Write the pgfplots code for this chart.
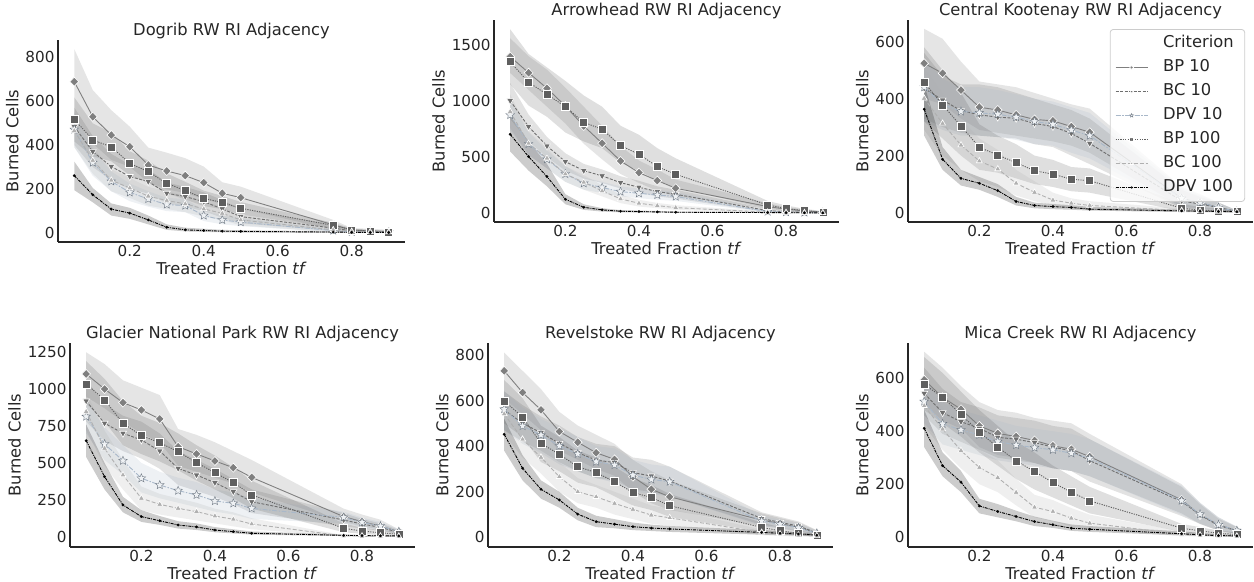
\documentclass[border=0pt]{standalone}
\usepackage{fontspec}
\setmainfont{DejaVu Sans}
\usepackage{pgfplots}
\pgfplotsset{compat=1.18}
\usepackage{pgfplotstable}
\usepgfplotslibrary{fillbetween}

\definecolor{cBPa}{HTML}{7F7F7F}
\definecolor{cBCa}{HTML}{6E6E6E}
\definecolor{cDPVa}{HTML}{A9B8C9}
\definecolor{cBPb}{HTML}{5F5F5F}
\definecolor{cBCb}{HTML}{B0B0B0}
\definecolor{cDPVb}{HTML}{000000}
\definecolor{spine}{HTML}{262626}
\definecolor{legedge}{HTML}{CCCCCC}

\newcommand{\fs}{\fontsize{16.3bp}{19bp}\selectfont}
\newcommand{\fst}{\fontsize{15.2bp}{18bp}\selectfont}

\pgfdeclareplotmark{fstar}{%
  \pgfpathmoveto{\pgfpointpolar{90}{\pgfplotmarksize}}%
  \pgfpathlineto{\pgfpointpolar{126}{0.45\pgfplotmarksize}}%
  \pgfpathlineto{\pgfpointpolar{162}{\pgfplotmarksize}}%
  \pgfpathlineto{\pgfpointpolar{198}{0.45\pgfplotmarksize}}%
  \pgfpathlineto{\pgfpointpolar{234}{\pgfplotmarksize}}%
  \pgfpathlineto{\pgfpointpolar{270}{0.45\pgfplotmarksize}}%
  \pgfpathlineto{\pgfpointpolar{306}{\pgfplotmarksize}}%
  \pgfpathlineto{\pgfpointpolar{342}{0.45\pgfplotmarksize}}%
  \pgfpathlineto{\pgfpointpolar{18}{\pgfplotmarksize}}%
  \pgfpathlineto{\pgfpointpolar{54}{0.45\pgfplotmarksize}}%
  \pgfpathclose
  \pgfusepathqfillstroke
}

% columns: a=BP 10, b=BC 10, c=DPV 10, d=BP 100, e=BC 100, f=DPV 100 (mean, low, high)
\pgfplotstableread{
x a alo ahi b blo bhi c clo chi d dlo dhi e elo ehi f flo fhi
0.05 687 539 835 483 400 570 470 390 550 516 416 616 465 390 550 261 195 325
0.10 528 407 649 370 300 440 320 260 380 423 348 498 330 270 390 174 140 205
0.15 445 332 558 302 240 360 235 190 280 391 326 456 240 190 290 109 80 135
0.20 392 301 483 257 200 310 185 145 225 317 262 372 205 160 250 91 65 115
0.25 309 230 388 234 180 290 155 120 190 279 229 329 168 125 210 60 40 80
0.30 282 199 365 181 135 230 130 100 160 226 181 271 148 110 190 27 15 40
0.35 261 182 340 166 120 210 125 95 155 193 153 233 133 95 170 15 8 25
0.40 229 156 302 143 100 185 80 55 105 158 123 193 110 75 145 12 6 20
0.45 181 131 231 110 70 150 60 40 80 139 109 169 90 60 120 9 4 15
0.50 161 111 211 75 45 110 50 32 68 113 85 141 60 35 85 8 3 13
0.75 38 16 60 23 10 40 12 4 20 35 23 47 15 5 25 5 1 9
0.80 15 7 23 10 4 18 6 2 10 15 8 22 8 3 13 4 1 7
0.85 10 3 20 8 3 14 5 2 8 10 5 15 6 2 10 3 1 6
0.90 7 2 15 6 2 10 4 1 7 6 2 10 5 2 8 3 1 5
}\tDog

\pgfplotstableread{
x a alo ahi b blo bhi c clo chi d dlo dhi e elo ehi f flo fhi
0.05 1396 1250 1560 1004 840 1160 876 740 1010 1351 1150 1640 906 760 1060 704 550 870
0.10 1253 1100 1400 772 640 880 618 520 720 1167 960 1420 624 520 730 505 380 640
0.15 1114 950 1280 600 500 680 481 400 560 1060 860 1300 490 400 580 327 240 440
0.20 956 800 1120 460 380 535 350 280 420 950 720 1180 350 280 420 125 80 170
0.25 778 620 950 380 310 440 267 210 320 811 640 1050 276 210 340 53 30 80
0.30 624 480 780 333 270 390 229 180 280 748 580 950 199 150 250 30 15 45
0.35 466 350 600 273 220 330 193 150 240 603 450 780 128 90 165 18 8 28
0.40 362 270 470 232 180 290 178 135 220 526 380 700 89 60 120 15 6 24
0.45 291 200 390 193 150 240 163 120 205 416 290 580 68 45 92 12 5 20
0.50 223 150 300 169 130 210 149 110 190 347 230 490 50 30 72 9 4 15
0.75 60 40 90 24 10 40 15 6 26 74 40 110 9 3 16 6 2 10
0.80 36 20 55 12 5 22 10 4 17 42 20 70 6 2 11 5 2 8
0.85 21 10 35 9 3 16 7 3 12 24 10 40 5 2 8 4 1 7
0.90 9 3 15 6 2 10 5 2 9 9 3 18 4 1 7 3 1 6
}\tArr

\pgfplotstableread{
x a alo ahi b blo bhi c clo chi d dlo dhi e elo ehi f flo fhi
0.05 524 400 645 436 330 560 440 320 540 457 320 580 401 290 510 363 270 450
0.10 489 380 610 395 300 480 380 290 470 378 260 500 313 200 420 187 150 230
0.15 430 330 530 358 280 450 355 270 440 304 200 420 237 150 330 120 95 150
0.20 370 290 460 343 270 450 350 270 440 229 150 310 181 110 260 103 80 125
0.25 360 280 450 335 265 440 345 265 430 202 140 270 153 90 220 77 55 100
0.30 343 270 440 331 260 420 335 255 415 175 120 240 103 60 150 39 25 55
0.35 327 260 420 313 240 400 320 240 400 147 100 200 71 40 110 25 15 35
0.40 322 250 400 302 230 380 310 235 390 135 90 185 44 25 70 21 12 30
0.45 302 235 380 278 200 360 290 210 370 117 75 160 33 18 50 18 10 26
0.50 282 210 365 243 170 330 270 190 350 112 70 155 25 12 40 12 7 20
0.75 50 20 90 41 15 80 50 18 85 15 5 30 7 2 14 6 2 10
0.80 35 15 65 30 10 55 35 12 60 9 3 20 5 1 10 5 2 8
0.85 18 8 35 18 5 35 18 6 35 6 2 14 4 1 8 4 1 7
0.90 4 2 8 4 2 8 4 2 8 4 1 8 3 1 6 3 1 6
}\tCen

\pgfplotstableread{
x a alo ahi b blo bhi c clo chi d dlo dhi e elo ehi f flo fhi
0.05 1103 950 1250 920 780 1060 814 700 930 1035 900 1190 848 720 980 651 540 760
0.10 1001 870 1170 769 650 900 628 520 740 927 780 1070 599 480 720 407 320 500
0.15 909 780 1060 701 580 820 515 420 620 769 620 920 418 320 520 215 165 270
0.20 859 700 1010 656 530 780 396 300 500 685 560 820 260 180 340 136 100 180
0.25 798 640 960 581 460 700 350 260 440 637 510 770 219 150 290 108 80 140
0.30 610 480 730 463 350 580 312 230 400 576 450 700 192 130 260 79 55 105
0.35 561 440 690 418 310 520 283 200 370 502 380 620 170 110 230 66 45 90
0.40 513 400 640 366 270 460 242 170 320 434 320 550 140 90 190 45 30 65
0.45 468 360 580 305 220 390 226 150 300 366 260 470 118 70 165 34 22 50
0.50 402 300 520 237 160 320 192 120 260 283 190 380 86 50 125 23 14 35
0.75 136 100 190 113 70 160 131 90 170 57 30 90 5 2 10 9 4 15
0.80 102 70 150 86 55 120 97 65 130 38 20 60 4 1 8 7 3 12
0.85 72 50 115 63 40 90 72 45 100 27 10 45 3 1 6 6 2 10
0.90 34 20 50 29 15 45 34 20 50 16 5 30 3 1 6 5 2 9
}\tGla

\pgfplotstableread{
x a alo ahi b blo bhi c clo chi d dlo dhi e elo ehi f flo fhi
0.05 730 610 810 559 470 640 562 470 640 598 500 690 541 450 630 452 380 520
0.10 635 540 730 500 420 580 488 410 570 528 440 610 430 350 510 303 250 360
0.15 559 470 650 459 380 530 449 370 520 412 330 490 351 280 420 211 170 250
0.20 464 380 550 412 330 490 401 320 480 364 290 440 266 200 330 164 130 200
0.25 417 340 490 371 290 440 366 290 440 310 240 380 200 150 260 102 75 130
0.30 371 300 450 339 260 410 332 260 400 284 220 350 178 130 230 69 45 95
0.35 342 270 410 328 250 400 317 240 390 244 180 310 149 100 200 58 40 80
0.40 266 200 340 284 210 350 273 200 340 197 140 260 123 80 170 47 32 65
0.45 211 150 290 269 200 340 254 190 320 175 120 230 98 60 140 41 28 56
0.50 178 120 250 247 180 310 244 180 310 139 90 190 86 50 125 37 24 50
0.75 76 50 105 83 55 110 72 50 95 44 25 65 22 10 35 22 12 32
0.80 61 40 85 66 45 90 58 40 78 29 15 45 15 6 25 18 10 27
0.85 44 25 65 50 30 70 42 28 58 18 8 30 10 4 17 15 8 22
0.90 18 8 30 20 10 32 18 8 28 10 3 18 7 2 12 10 5 15
}\tRev

\pgfplotstableread{
x a alo ahi b blo bhi c clo chi d dlo dhi e elo ehi f flo fhi
0.05 594 500 700 543 460 640 512 430 600 577 480 680 496 420 580 411 340 480
0.10 528 440 640 470 390 560 428 350 510 528 430 620 408 330 490 270 230 320
0.15 483 410 570 436 360 510 405 330 480 464 380 550 327 260 400 208 170 250
0.20 420 340 510 411 330 490 386 310 460 396 320 480 263 200 330 118 90 145
0.25 392 310 480 377 300 460 361 290 440 340 270 420 225 170 290 97 75 125
0.30 380 300 470 370 290 450 348 280 420 288 220 360 169 120 220 78 60 100
0.35 365 280 450 357 280 440 338 270 410 248 180 320 113 75 160 59 42 78
0.40 345 260 440 340 260 420 330 260 400 206 150 270 97 60 140 47 35 62
0.45 332 250 430 326 250 410 317 250 390 170 120 230 72 40 110 34 24 48
0.50 304 230 390 289 210 370 298 230 370 137 90 190 53 28 85 30 20 42
0.75 141 90 200 135 80 190 138 85 195 34 20 50 11 4 22 13 7 22
0.80 84 50 130 84 50 125 87 52 130 24 12 38 8 3 16 9 5 16
0.85 47 25 75 44 25 70 47 27 75 15 6 25 5 2 10 6 3 11
0.90 25 12 40 24 12 38 25 12 40 10 3 18 4 1 8 5 2 9
}\tMic

\pgfplotsset{
  sBPa/.style={cBPa, line width=0.9bp, solid, mark=diamond*, mark size=4.5bp,
    mark options={solid, fill=cBPa, draw=white, line width=0.6bp, xscale=1.3}},
  sBCa/.style={cBCa, line width=0.9bp, dash pattern=on 3bp off 1.5bp, mark=triangle*, mark size=4bp,
    mark options={solid, rotate=180, fill=cBCa, draw=white, line width=0.6bp}},
  sDPVa/.style={cDPVa, line width=0.9bp, dash pattern=on 5bp off 1.5bp on 1.5bp off 1.5bp, mark=fstar, mark size=4.5bp,
    mark options={solid, fill=cDPVa!20!white, draw=cDPVa!65!black, line width=0.4bp}},
  sBPb/.style={cBPb, line width=0.9bp, dash pattern=on 1.2bp off 1.2bp, mark=square*, mark size=4bp,
    mark options={solid, fill=cBPb, draw=white, line width=0.6bp}},
  sBCb/.style={cBCb, line width=0.9bp, dash pattern=on 4bp off 2bp, mark=triangle*, mark size=3.5bp,
    mark options={solid, fill=cBCb, draw=white, line width=0.6bp}},
  sDPVb/.style={cDPVb, line width=0.9bp, dash pattern=on 3bp off 1bp on 1bp off 1bp, mark=*, mark size=1.3bp,
    mark options={solid, fill=black, draw=black, line width=0.2bp}},
  panel/.style={
    scale only axis, anchor=south west,
    axis lines*=left,
    axis line style={spine, line width=1.1bp},
    xmin=0.006, xmax=0.944,
    xtick={0.2,0.4,0.6,0.8},
    xticklabels={0.2,0.4,0.6,0.8},
    major tick length=0pt,
    xticklabel style={font=\fst, text=spine},
    yticklabel style={font=\fst, text=spine},
    /pgf/number format/assume math mode=true,
    /pgf/number format/1000 sep={},
    xlabel style={font=\fs, text=spine, yshift=2bp},
    ylabel style={font=\fs, text=spine},
    title style={font=\fs, text=spine, inner sep=0pt, anchor=south, yshift=-5bp},
    xlabel={Treated Fraction \textit{tf}},
    ylabel={Burned Cells},
  },
}

\newcommand{\band}[4]{%
  \addplot[draw=none, forget plot, name path=L#2] table[x=x, y=#2]{#1};
  \addplot[draw=none, forget plot, name path=H#2] table[x=x, y=#3]{#1};
  \addplot[fill=#4, fill opacity=0.2, draw=none, forget plot] fill between[of=L#2 and H#2];
}
\newcommand{\bands}[1]{%
  \band{#1}{alo}{ahi}{cBPa}
  \band{#1}{blo}{bhi}{cBCa}
  \band{#1}{clo}{chi}{cDPVa}
  \band{#1}{dlo}{dhi}{cBPb}
  \band{#1}{elo}{ehi}{cBCb}
  \band{#1}{flo}{fhi}{cDPVb}
}
\newcommand{\lines}[2]{%
  \addplot[sBPa,#2] table[x=x, y=a]{#1};
  \addplot[sBCa,#2] table[x=x, y=b]{#1};
  \addplot[sDPVa,#2] table[x=x, y=c]{#1};
  \addplot[sBPb,#2] table[x=x, y=d]{#1};
  \addplot[sBCb,#2] table[x=x, y=e]{#1};
  \addplot[sDPVb,#2] table[x=x, y=f]{#1};
}

\begin{document}
\begin{tikzpicture}

\begin{axis}[panel, at={(58bp,340bp)}, width=347bp, height=202bp,
  ymin=-40, ymax=876, ytick={0,200,400,600,800},
  title={Dogrib RW RI Adjacency}]
\bands{\tDog}
\lines{\tDog}{}
\end{axis}

\begin{axis}[panel, at={(494bp,360bp)}, width=345bp, height=202bp,
  ymin=-78, ymax=1723, ytick={0,500,1000,1500},
  title={Arrowhead RW RI Adjacency}]
\bands{\tArr}
\lines{\tArr}{}
\end{axis}

\begin{axis}[panel, at={(908bp,360bp)}, width=345bp, height=202bp,
  ymin=-33, ymax=676, ytick={0,200,400,600},
  title={Central Kootenay RW RI Adjacency},
  legend image code/.code={\draw[mark repeat=2,mark phase=2,#1] plot coordinates {(0bp,0bp) (16bp,0bp) (32bp,0bp)}; \path (41bp,0bp);},
  legend style={at={(axis description cs:0.977,0.955)}, anchor=north east,
    font=\fs, draw=legedge, line width=0.8bp, rounded corners=3bp,
    fill=white, fill opacity=0.8, text opacity=1,
    inner xsep=5bp, inner ysep=2bp, row sep=0bp,
    nodes={inner xsep=6bp, inner ysep=4.5bp, text height=12bp, text depth=3bp, text=spine},
    cells={anchor=west}}]
\bands{\tCen}
\lines{\tCen}{forget plot}
\addlegendimage{empty legend}\addlegendentry{Criterion}
\addlegendimage{sBPa, mark size=2bp}\addlegendentry{BP 10}
\addlegendimage{sBCa, mark size=2bp}\addlegendentry{BC 10}
\addlegendimage{sDPVa, mark size=2bp}\addlegendentry{DPV 10}
\addlegendimage{sBPb, mark size=2bp}\addlegendentry{BP 100}
\addlegendimage{sBCb, mark size=2bp}\addlegendentry{BC 100}
\addlegendimage{sDPVb, mark size=1bp}\addlegendentry{DPV 100}
\end{axis}

\begin{axis}[panel, at={(70bp,35bp)}, width=345bp, height=204bp,
  ymin=-70, ymax=1313, ytick={0,250,500,750,1000,1250},
  title={Glacier National Park RW RI Adjacency}]
\bands{\tGla}
\lines{\tGla}{}
\end{axis}

\begin{axis}[panel, at={(488bp,35bp)}, width=345bp, height=204bp,
  ymin=-42, ymax=852, ytick={0,200,400,600,800},
  title={Revelstoke RW RI Adjacency}]
\bands{\tRev}
\lines{\tRev}{}
\end{axis}

\begin{axis}[panel, at={(908bp,35bp)}, width=345bp, height=204bp,
  ymin=-37, ymax=733, ytick={0,200,400,600},
  title={Mica Creek RW RI Adjacency}]
\bands{\tMic}
\lines{\tMic}{}
\end{axis}

\pgfresetboundingbox
\path[use as bounding box] (0,0) rectangle (1254bp,582bp);
\end{tikzpicture}
\end{document}
